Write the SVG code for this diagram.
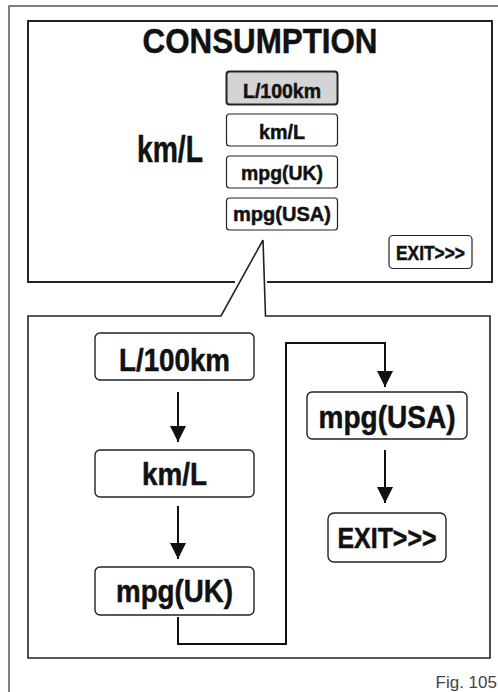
<svg xmlns="http://www.w3.org/2000/svg" width="498" height="692" viewBox="0 0 498 692">
<style>
.t{font-family:"Liberation Sans Narrow","Liberation Sans",Arial,sans-serif;font-weight:bold;fill:#111;stroke:#111;stroke-width:0.5;text-anchor:middle}
.b{fill:#fff;stroke:#222;stroke-width:1.2}
.bb{fill:#fff;stroke:#222;stroke-width:1.4}
.c{fill:none;stroke:#111;stroke-width:2}
.p{fill:none;stroke:#222;stroke-width:2}
</style>
<defs>
<marker id="ah" markerUnits="userSpaceOnUse" markerWidth="16" markerHeight="16" viewBox="0 0 16 16" refX="16" refY="8" orient="auto">
<path d="M0,0 L16,8 L0,16 Z" fill="#111"/>
</marker>
</defs>
<rect width="498" height="692" fill="#fff"/>
<path d="M9,692 V6 H498" fill="none" stroke="#555" stroke-width="1.5"/>

<g id="screen">
<path class="p" d="M235,282 H28 V21 H492 V282 H267"/>
<text class="t" x="260" y="53" font-size="35" textLength="235" lengthAdjust="spacingAndGlyphs">CONSUMPTION</text>
<text class="t" x="170" y="162" font-size="37" textLength="66" lengthAdjust="spacingAndGlyphs">km/L</text>
</g>
<g id="opt-l100">
<rect x="226.5" y="71.5" width="111" height="33" rx="3" fill="#d4d4d4" stroke="#222" stroke-width="2"/>
<text class="t" x="282" y="98" font-size="21" textLength="78" lengthAdjust="spacingAndGlyphs">L/100km</text>
</g>
<g id="opt-kml">
<rect class="b" x="226.5" y="114" width="111" height="32" rx="3"/>
<text class="t" x="282" y="139" font-size="21" textLength="46" lengthAdjust="spacingAndGlyphs">km/L</text>
</g>
<g id="opt-uk">
<rect class="b" x="226.5" y="156" width="111" height="32" rx="3"/>
<text class="t" x="282" y="180" font-size="21" textLength="82" lengthAdjust="spacingAndGlyphs">mpg(UK)</text>
</g>
<g id="opt-usa">
<rect class="b" x="226.5" y="198" width="111" height="32" rx="3"/>
<text class="t" x="282" y="221" font-size="21" textLength="98" lengthAdjust="spacingAndGlyphs">mpg(USA)</text>
</g>
<g id="opt-exit">
<rect class="b" x="389" y="235.5" width="83" height="33" rx="4"/>
<text class="t" x="430.5" y="260" font-size="20" textLength="69" lengthAdjust="spacingAndGlyphs">EXIT&gt;&gt;&gt;</text>
</g>

<g id="detail">
<path d="M263,240 L221,316 H28 V658 H490 V316 H265.5 L263,240" fill="none" stroke="#222" stroke-width="1.6" stroke-linejoin="miter"/>
</g>

<g id="n-l100">
<rect class="bb" x="95" y="333" width="159" height="47" rx="5"/>
<text class="t" x="174.5" y="371" font-size="31" textLength="111" lengthAdjust="spacingAndGlyphs">L/100km</text>
</g>
<g id="n-kml">
<rect class="bb" x="95" y="450" width="159" height="47" rx="5"/>
<text class="t" x="174.5" y="485" font-size="31" textLength="65" lengthAdjust="spacingAndGlyphs">km/L</text>
</g>
<g id="n-uk">
<rect class="bb" x="95" y="567" width="159" height="48" rx="5"/>
<text class="t" x="174.5" y="602" font-size="31" textLength="117" lengthAdjust="spacingAndGlyphs">mpg(UK)</text>
</g>
<g id="n-usa">
<rect class="bb" x="307" y="392" width="160" height="47" rx="5"/>
<text class="t" x="387" y="428" font-size="31" textLength="137" lengthAdjust="spacingAndGlyphs">mpg(USA)</text>
</g>
<g id="n-exit">
<rect class="bb" x="328" y="513" width="118" height="49" rx="6"/>
<text class="t" x="387" y="548" font-size="29" textLength="99" lengthAdjust="spacingAndGlyphs">EXIT&gt;&gt;&gt;</text>
</g>

<g id="connectors">
<path class="c" d="M178,392 V442" marker-end="url(#ah)"/>
<path class="c" d="M178,506 V559" marker-end="url(#ah)"/>
<path class="c" d="M178,617 V644 H286 V343 H385 V387" marker-end="url(#ah)"/>
<path class="c" d="M385,450 V503" marker-end="url(#ah)"/>
</g>

<text x="497" y="688" font-family="Liberation Sans, Arial, sans-serif" font-size="17" fill="#444" text-anchor="end">Fig. 105</text>
</svg>
